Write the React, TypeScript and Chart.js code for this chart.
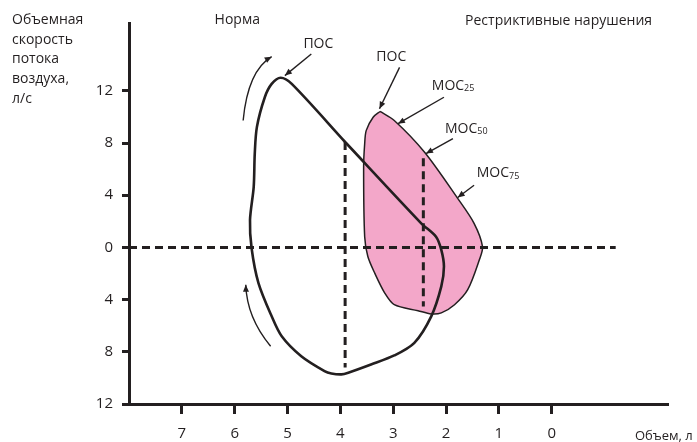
import React, { useEffect, useRef } from "react";
import { Chart, registerables } from "chart.js";

Chart.register(...registerables);

// ---- data (volume in litres, flow in l/s; expiration positive, inspiration negative)
const volumeTicks = [0, 1, 2, 3, 4, 5, 6, 7];
const flowTicks = [-12, -8, -4, 0, 4, 8, 12];

const normalVolume = [3.91, 2.47, 2.19, 2.09, 2.04, 2.09, 2.28, 2.6, 2.98, 3.42, 3.85, 3.98, 4.17, 4.3, 4.74, 5.11, 5.3, 5.55, 5.68, 5.71, 5.64, 5.62, 5.58, 5.43, 5.3, 5.13, 4.92, 3.91];
const normalFlow = [8.08, 1.85, 0.82, -0.19, -1.47, -2.99, -5.28, -7.31, -8.28, -8.97, -9.6, -9.73, -9.66, -9.48, -8.34, -6.81, -5.28, -2.73, -0.06, 2.1, 4.64, 7.19, 9.22, 11.51, 12.53, 13.0, 12.53, 8.08];

const restrictVolume = [3.25, 2.98, 2.41, 1.78, 1.47, 1.31, 1.37, 1.59, 1.84, 2.09, 2.28, 2.53, 2.98, 3.16, 3.35, 3.48, 3.54, 3.56, 3.54, 3.51, 3.38, 3.25];
const restrictFlow = [10.42, 9.73, 7.31, 3.76, 1.85, 0.06, -0.95, -3.24, -4.39, -5.02, -5.1, -4.85, -4.39, -3.5, -1.97, -0.7, 0.82, 6.17, 7.95, 8.97, 9.98, 10.42];

const zeroLineVolume = [8, -1.21];
const zeroLineFlow = [0, 0];
const normalMidVolume = [3.91, 3.91];
const normalMidFlow = [8.08, -9.2];
const restrictMidVolume = [2.43, 2.43];
const restrictMidFlow = [6.83, -4.52];

// ---- annotations (anchored in data units)
const headerLabels = [
  { text: "Норма", v: 6.38, f: 17.44 },
  { text: "Рестриктивные нарушения", v: 1.64, f: 17.37 },
];
const pointerLabels = [
  { text: "ПОС", sub: "", v: 4.7, f: 15.59, from: [4.55, 14.82], to: [5.05, 13.17] },
  { text: "ПОС", sub: "", v: 3.32, f: 14.56, from: [2.88, 13.8], to: [3.26, 10.63] },
  { text: "МОС", sub: "25", v: 2.27, f: 12.4, from: [2.04, 11.51], to: [2.91, 9.48] },
  { text: "МОС", sub: "50", v: 2.02, f: 9.1, from: [1.87, 8.34], to: [2.38, 7.19] },
  { text: "МОС", sub: "75", v: 1.42, f: 5.69, from: [1.47, 4.77], to: [1.78, 3.83] },
];
const curvedArrows = [
  { start: [5.84, 9.73], ctrl: [5.75, 13.55], end: [5.3, 14.62] },
  { start: [5.32, -7.57], ctrl: [5.77, -5.38], end: [5.79, -2.86] },
];
const yTitleLines = ["Объемная", "скорость", "потока", "воздуха,", "л/с"];
const xTitle = "Объем, л";

const INK = "#231f20";
const PINK = "#f3a7c9";
const FONT = "'Open Sans', 'Noto Sans', sans-serif";

function pts(xs: number[], ys: number[]) {
  return xs.map((x, i) => ({ x, y: ys[i] }));
}

function arrowHead(ctx: CanvasRenderingContext2D, x0: number, y0: number, x1: number, y1: number, len: number, half: number) {
  const a = Math.atan2(y1 - y0, x1 - x0);
  ctx.beginPath();
  ctx.moveTo(x1, y1);
  ctx.lineTo(x1 - len * Math.cos(a) + half * Math.sin(a), y1 - len * Math.sin(a) - half * Math.cos(a));
  ctx.lineTo(x1 - len * Math.cos(a) - half * Math.sin(a), y1 - len * Math.sin(a) + half * Math.cos(a));
  ctx.closePath();
  ctx.fill();
}

const overlayPlugin = {
  id: "overlay",
  afterDraw(chart: any) {
    const { ctx, scales } = chart;
    const X = (v: number) => scales.x.getPixelForValue(v);
    const Y = (f: number) => scales.y.getPixelForValue(f);
    ctx.save();
    ctx.fillStyle = INK;
    ctx.strokeStyle = INK;
    ctx.textBaseline = "middle";
    ctx.textAlign = "left";

    ctx.font = `14px ${FONT}`;
    headerLabels.forEach((l) => ctx.fillText(l.text, X(l.v), Y(l.f)));

    // y-axis title (top-left corner of canvas)
    yTitleLines.forEach((t, i) => ctx.fillText(t, 12, 20 + i * 19.7));

    // x-axis title
    ctx.font = `13px ${FONT}`;
    ctx.fillText(xTitle, scales.x.right - 33, scales.x.bottom - 6);

    // pointer labels with straight arrows
    pointerLabels.forEach((l) => {
      const x = X(l.v);
      const y = Y(l.f);
      ctx.font = `14px ${FONT}`;
      ctx.fillText(l.text, x, y);
      if (l.sub) {
        const w = ctx.measureText(l.text).width;
        ctx.font = `9px ${FONT}`;
        ctx.fillText(l.sub, x + w, y + 3);
      }
      const x0 = X(l.from[0]), y0 = Y(l.from[1]);
      const x1 = X(l.to[0]), y1 = Y(l.to[1]);
      ctx.lineWidth = 1.4;
      ctx.beginPath();
      ctx.moveTo(x0, y0);
      ctx.lineTo(x1, y1);
      ctx.stroke();
      arrowHead(ctx, x0, y0, x1, y1, 7, 3);
    });

    // curved arrows
    curvedArrows.forEach((c) => {
      const sx = X(c.start[0]), sy = Y(c.start[1]);
      const cx = X(c.ctrl[0]), cy = Y(c.ctrl[1]);
      const ex = X(c.end[0]), ey = Y(c.end[1]);
      ctx.lineWidth = 1.4;
      ctx.beginPath();
      ctx.moveTo(sx, sy);
      ctx.quadraticCurveTo(cx, cy, ex, ey);
      ctx.stroke();
      arrowHead(ctx, cx, cy, ex, ey, 7, 3);
    });
    ctx.restore();
  },
};

export default function App() {
  const ref = useRef<HTMLCanvasElement | null>(null);
  useEffect(() => {
    document.body.style.margin = "0";
    if (!ref.current) return;
    const dashed = {
      borderColor: INK,
      borderWidth: 3,
      borderDash: [8, 5],
      showLine: true,
      pointRadius: 0,
      fill: false,
      tension: 0,
    };
    const chart = new Chart(ref.current, {
      type: "scatter",
      data: {
        datasets: [
          { ...dashed, label: "zero", data: pts(zeroLineVolume, zeroLineFlow), order: 1 },
          { ...dashed, label: "mid-normal", data: pts(normalMidVolume, normalMidFlow), order: 1 },
          { ...dashed, label: "mid-restrict", data: pts(restrictMidVolume, restrictMidFlow), order: 1 },
          {
            label: "Норма",
            data: pts(normalVolume, normalFlow),
            showLine: true,
            borderColor: INK,
            borderWidth: 2.6,
            pointRadius: 0,
            tension: 0.3,
            fill: false,
            order: 2,
          },
          {
            label: "Рестриктивные нарушения",
            data: pts(restrictVolume, restrictFlow),
            showLine: true,
            borderColor: INK,
            borderWidth: 1.5,
            backgroundColor: PINK,
            pointRadius: 0,
            tension: 0.3,
            fill: "shape",
            order: 3,
          },
        ] as any,
      },
      options: {
        responsive: false,
        animation: false,
        layout: { padding: { left: 0, right: 29, top: 23, bottom: 0 } },
        plugins: { legend: { display: false }, tooltip: { enabled: false } },
        scales: {
          x: {
            type: "linear",
            reverse: true,
            min: -2.2,
            max: 8,
            afterBuildTicks: (s: any) => {
              s.ticks = volumeTicks.map((v) => ({ value: v }));
            },
            afterFit: (s: any) => {
              s.height = 38;
            },
            grid: { drawOnChartArea: false, tickLength: 10, tickWidth: 3, tickColor: INK },
            border: { display: true, width: 3, color: INK },
            ticks: { color: INK, font: { size: 15, family: FONT }, padding: 11, autoSkip: false, maxRotation: 0 },
          },
          y: {
            type: "linear",
            min: -12,
            max: 17.2,
            afterBuildTicks: (s: any) => {
              s.ticks = flowTicks.map((v) => ({ value: v }));
            },
            afterFit: (s: any) => {
              s.width = 129;
            },
            grid: { drawOnChartArea: false, tickLength: 7, tickWidth: 3, tickColor: INK },
            border: { display: true, width: 3, color: INK },
            ticks: {
              color: INK,
              font: { size: 15, family: FONT },
              padding: 9,
              callback: (v: any) => String(Math.abs(Number(v))),
            },
          },
        },
      },
      plugins: [overlayPlugin],
    } as any);
    return () => chart.destroy();
  }, []);
  return (
    <div style={{ position: "absolute", left: 0, top: 0, width: 697, height: 442 }}>
      <canvas ref={ref} width={697} height={442} />
    </div>
  );
}
